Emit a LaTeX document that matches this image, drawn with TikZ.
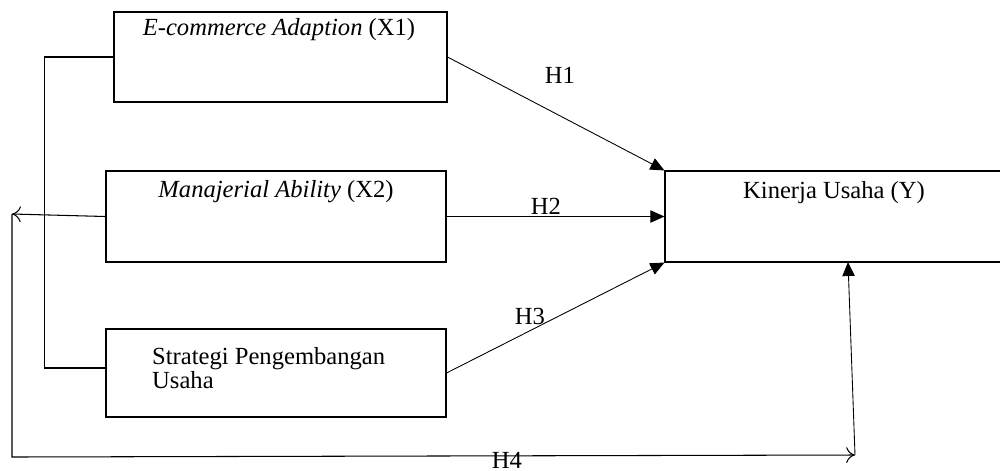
\documentclass[tikz,border=0pt]{standalone}
\usepackage{fontspec}
\setmainfont{Liberation Serif}
\usetikzlibrary{arrows.meta}
\tikzset{
	kotak/.style={draw, line width=0.6pt, rectangle, inner sep=0pt},
	panah/.style={-{Triangle[length=8pt,width=7pt]}, line width=0.5pt},
	garis/.style={line width=0.6pt},
}
\begin{document}
\begin{tikzpicture}[font=\fontsize{14}{12}\selectfont]
		\useasboundingbox (0,0) rectangle (20,-9.4);							% Batas
		
		% Variabel
		\node[kotak, minimum width=6.66cm, minimum height=1.8cm] (X1) at (5.61,-1.14) {};
		\node[anchor=north] (tX1) at (5.58,-0.24) {\textit{E-commerce Adaption} (X1)};
		\node[kotak, minimum width=6.8cm, minimum height=1.82cm] (X2) at (5.52,-4.33) {};
		\node[anchor=north] (tX2) at (5.52,-3.48) {\textit{Manajerial Ability} (X2)};
		\node[kotak, minimum width=6.8cm, minimum height=1.76cm] (X3) at (5.52,-7.46) {};
		\node[anchor=north west, align=left] (tX3) at (2.92,-6.82) {Strategi Pengembangan\\Usaha};
		\node[kotak, minimum width=6.8cm, minimum height=1.82cm] (Y) at (16.7,-4.33) {};
		\node[anchor=north] (tY) at (16.68,-3.5) {Kinerja Usaha (Y)};
		
		% Titik bantu
		\coordinate (kiri) at (0.24,-4.28);
		\coordinate (bawah) at (17.1,-9.1);
		\coordinate (masuk) at (16.96,-5.24);
		
		% Panah H1--H3
		\draw[panah] (X1.east) -- (Y.north west);
		\draw[panah] (X2.east) -- (Y.west);
		\draw[panah] (X3.east) -- (Y.south west);
		\node (H1) at (11.2,-1.5) {H1};
		\node (H2) at (10.92,-4.12) {H2};
		\node (H3) at (10.6,-6.32) {H3};
		
		% Garis kiri
		\draw[garis] (X1.west) -- ++(-1.38,0) |- ([yshift=0.1cm]X3.west);
		\draw[garis, -{To[length=5pt,width=9pt]}] (X2.west) -- (kiri);
		
		% H4
		\draw[garis, -{To[length=5pt,width=9pt]}] (kiri) -- (0.24,-9.14) -- (bawah);
		\draw[panah] (bawah) -- (masuk);
		\node (H4) at (10.14,-9.2) {H4};
	\end{tikzpicture}
\end{document}
